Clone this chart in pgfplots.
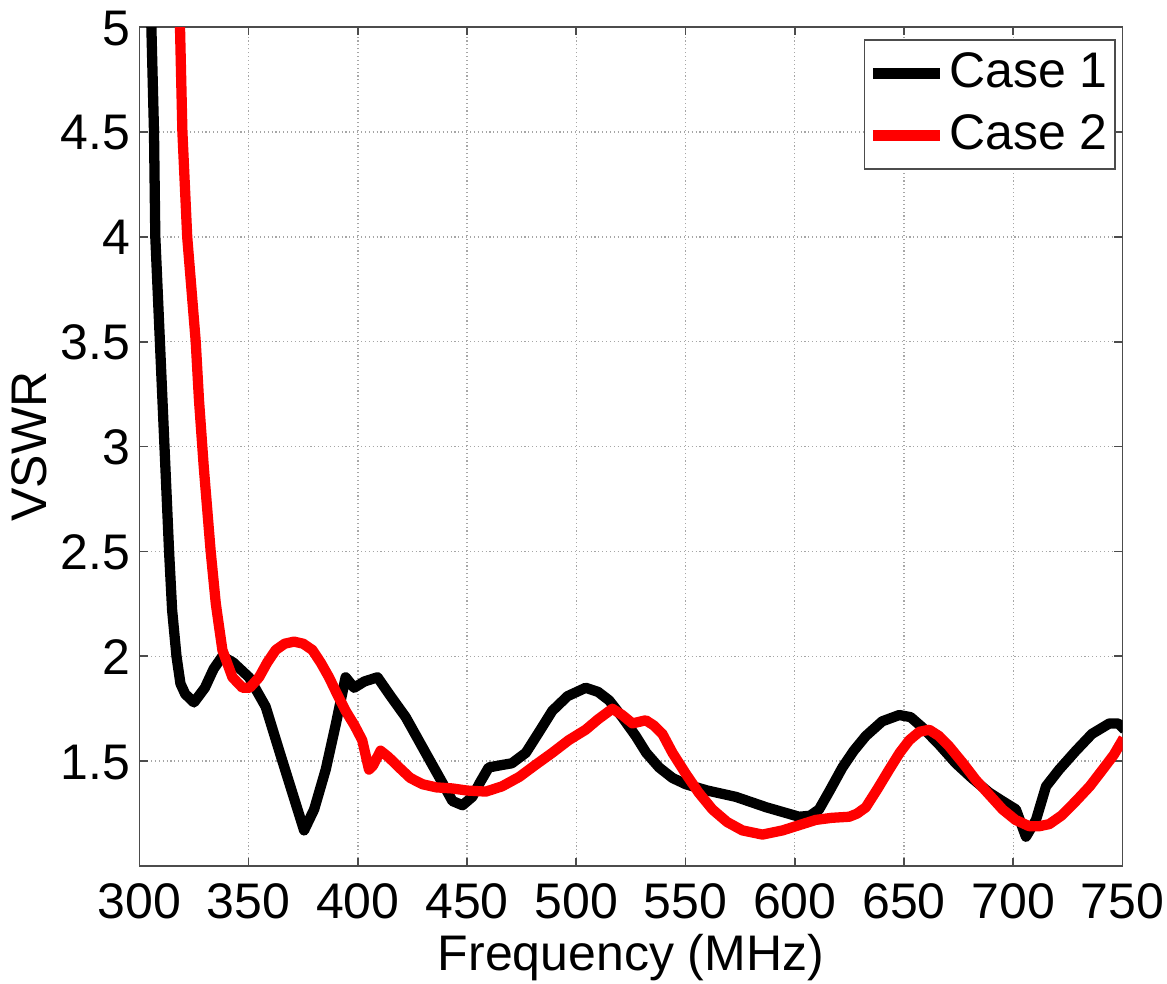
\documentclass[border=0pt]{standalone}
\usepackage{pgfplots}
\pgfplotsset{compat=1.18}
\usepackage{fontspec}
\setmainfont{Liberation Sans}
\begin{document}
\fontsize{18}{21}\selectfont
\begin{tikzpicture}
\begin{axis}[
  scale only axis,
  width=353.9pt, height=302pt,
  xmin=300, xmax=750, ymin=1, ymax=5,
  xtick={300,350,...,750},
  ytick={1.5,2,2.5,3,3.5,4,4.5,5},
  /pgf/number format/assume math mode=true,
  tick label style={font=\fontsize{18}{21}\selectfont},
  xticklabel style={inner xsep=1pt, inner ysep=1pt, text height=13pt, text depth=0pt, yshift=-4.7pt},
  yticklabel style={inner xsep=3pt, inner ysep=3.3pt, text height=12.9pt, text depth=0pt},
  label style={font=\fontsize{18}{21}\selectfont},
  xlabel={Frequency (MHz)},
  ylabel={VSWR},
  xlabel style={inner sep=1pt, text height=13pt, yshift=-3.4pt},
  ylabel style={inner sep=4pt, yshift=-2pt},
  grid=major,
  major grid style={densely dotted, gray!70, line width=0.5pt},
  tick align=inside,
  major tick length=3pt,
  axis line style={line width=0.6pt, black!70},
  every tick/.style={black!70, line width=0.6pt},
  legend style={at={(1,1)}, xshift=-2.5pt, yshift=-4.3pt, anchor=north east, draw=black!70, line width=0.6pt, font=\fontsize{18}{21}\selectfont, inner xsep=1pt, inner ysep=3pt, row sep=4pt, nodes={inner sep=1.5pt}},
  legend cell align=left,
  legend image code/.code={\draw[#1, line width=4pt] (0pt,0pt) -- (24pt,0pt);},
  clip=true,
]
\addplot[black, line width=3.7pt, line join=round] coordinates {
(304.0,5.3)(305.5,5.0)(306.7,4.5)(307.3,4.0)(309.4,3.5)(311.5,3.0)(313.6,2.5)(315,2.22)(317,2.0)(318.8,1.87)(321,1.82)(325,1.78)(330,1.85)(334,1.94)(338,2.0)(343,1.97)(350.2,1.90)(357.8,1.76)(364,1.55)(370,1.35)(375.4,1.17)(380,1.27)(385.3,1.46)(390,1.68)(394.4,1.90)(398.3,1.85)(403,1.88)(409,1.90)(415,1.81)(421.9,1.71)(431,1.54)(438,1.41)(443.3,1.31)(447.9,1.29)(452.4,1.33)(456,1.40)(459.9,1.47)(465,1.48)(470.5,1.49)(476.9,1.54)(483,1.64)(489,1.74)(496,1.81)(504.3,1.85)(510,1.83)(515,1.79)(521,1.71)(527.2,1.62)(532,1.54)(537.9,1.47)(544,1.42)(550.1,1.39)(560,1.36)(573,1.33)(587,1.28)(602,1.235)(607,1.24)(611.1,1.27)(616,1.36)(621.8,1.47)(627,1.55)(632.5,1.62)(640,1.69)(647.8,1.72)(653,1.71)(658.5,1.66)(666,1.58)(673.7,1.49)(681,1.42)(689,1.35)(695,1.31)(701.2,1.27)(705.8,1.14)(710.4,1.22)(715,1.38)(721,1.46)(728.7,1.55)(736,1.63)(744,1.68)(748,1.68)(751,1.65)
};
\addlegendentry{Case 1}
\addplot[red, line width=3.7pt, line join=round] coordinates {
(318.2,5.3)(318.6,5.0)(319.7,4.5)(321.9,4.0)(325.8,3.5)(327.3,3.22)(329.5,2.9)(332.6,2.505)(335,2.25)(338,2.03)(342.6,1.90)(347.2,1.85)(350.5,1.85)(354.8,1.90)(358.5,1.97)(362.4,2.03)(366.5,2.06)(370.8,2.07)(375,2.06)(379.2,2.03)(383,1.97)(386.8,1.90)(390.5,1.82)(394.4,1.74)(398.5,1.67)(402,1.60)(405.1,1.46)(407,1.48)(410.4,1.55)(414,1.52)(418.9,1.47)(424,1.42)(429.6,1.39)(436,1.375)(443.3,1.37)(450,1.36)(458.6,1.355)(466,1.38)(473.9,1.425)(481,1.48)(489,1.54)(496.5,1.60)(504.3,1.65)(510,1.70)(516.5,1.75)(521,1.72)(525.7,1.68)(531.8,1.695)(535.5,1.67)(539.4,1.63)(544,1.54)(550.1,1.44)(556,1.35)(562.3,1.27)(569,1.21)(576,1.17)(585.2,1.15)(594.4,1.17)(602,1.195)(609.6,1.22)(617,1.23)(624.9,1.235)(628.5,1.25)(632.5,1.28)(638,1.37)(643.2,1.46)(648,1.54)(652.4,1.60)(657,1.64)(661.5,1.65)(666,1.62)(670.7,1.57)(677,1.49)(682.9,1.41)(689,1.34)(695.1,1.27)(701,1.22)(707.3,1.19)(712,1.19)(716.5,1.20)(722,1.24)(728.7,1.31)(735,1.38)(740.9,1.46)(746,1.53)(750.5,1.61)
};
\addlegendentry{Case 2}
\end{axis}
\end{tikzpicture}
\end{document}
